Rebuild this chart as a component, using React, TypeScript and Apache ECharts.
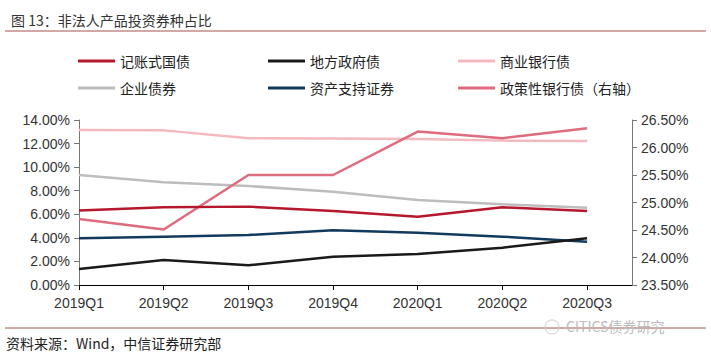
import React, { useEffect, useRef } from "react";
import * as echarts from "echarts";

const categories = ["2019Q1", "2019Q2", "2019Q3", "2019Q4", "2020Q1", "2020Q2", "2020Q3"];
const treasury = [6.33, 6.59, 6.65, 6.28, 5.8, 6.59, 6.28];
const localGov = [1.36, 2.12, 1.67, 2.4, 2.63, 3.17, 3.96];
const commercialBank = [13.15, 13.12, 12.45, 12.42, 12.38, 12.25, 12.22];
const enterprise = [9.33, 8.71, 8.4, 7.92, 7.21, 6.85, 6.56];
const abs = [3.96, 4.1, 4.24, 4.64, 4.44, 4.1, 3.68];
const policyBank = [24.7, 24.51, 25.5, 25.5, 26.29, 26.17, 26.35];

const leftTicks = { min: 0, max: 14, interval: 2 };
const rightTicks = { min: 23.5, max: 26.5, interval: 0.5 };

const FONT = "'Liberation Sans', Arial, 'Noto Sans CJK SC', sans-serif";
const CJK = "'Noto Sans CJK SC', 'Liberation Sans', sans-serif";

function pairs(arr: number[]) {
  return arr.map((v, i) => [i, v]);
}

export default function App() {
  const ref = useRef<HTMLDivElement>(null);
  useEffect(() => {
    if (!ref.current) return;
    const chart = echarts.init(ref.current, undefined, { renderer: "svg" });
    const mk = (name: string, data: number[], color: string, yAxisIndex = 0, width = 2.5) => ({
      name,
      type: "line",
      yAxisIndex,
      data: pairs(data),
      symbol: "none",
      showSymbol: false,
      lineStyle: { color, width },
      itemStyle: { color },
      z: 3,
    });
    const legendText = { fontSize: 14, color: "#222", fontFamily: CJK, lineHeight: 14 };
    const legendBase = {
      orient: "vertical",
      top: 49,
      itemWidth: 37,
      itemHeight: 3,
      itemGap: 13,
      icon: "rect",
      textStyle: legendText,
      selectedMode: false,
    };
    chart.setOption({
      animation: false,
      backgroundColor: "#fff",
      textStyle: { fontFamily: FONT },
      title: {
        text: "图 13：非法人产品投资券种占比",
        left: 6,
        top: 8,
        textStyle: { fontSize: 14, fontWeight: "normal", color: "#333", fontFamily: CJK },
      },
      legend: [
        { ...legendBase, left: 73, data: ["记账式国债", "企业债券"] },
        { ...legendBase, left: 263, data: ["地方政府债", "资产支持证券"] },
        { ...legendBase, left: 453, data: ["商业银行债", "政策性银行债（右轴）"] },
      ],
      grid: { left: 79, right: 79, top: 120, bottom: 75 },
      xAxis: {
        type: "value",
        min: 0,
        max: 6.53,
        interval: 1,
        splitLine: { show: false },
        axisLine: { lineStyle: { color: "#000", width: 1 } },
        axisTick: { show: true, length: 5, lineStyle: { color: "#000" } },
        axisLabel: {
          fontSize: 14,
          color: "#333",
          margin: 11,
          showMaxLabel: false,
          formatter: (v: number) => (Number.isInteger(v) && categories[v] ? categories[v] : ""),
        },
      },
      yAxis: [
        {
          type: "value",
          ...leftTicks,
          splitLine: { show: false },
          axisLine: { show: true, lineStyle: { color: "#777" } },
          axisTick: { show: true, length: 5, lineStyle: { color: "#777" } },
          axisLabel: { fontSize: 14, color: "#333", margin: 9, formatter: (v: number) => v.toFixed(2) + "%" },
        },
        {
          type: "value",
          ...rightTicks,
          position: "right",
          splitLine: { show: false },
          axisLine: { show: true, lineStyle: { color: "#777" } },
          axisTick: { show: true, length: 5, lineStyle: { color: "#777" } },
          axisLabel: { fontSize: 14, color: "#333", margin: 9, formatter: (v: number) => v.toFixed(2) + "%" },
        },
      ],
      series: [
        mk("商业银行债", commercialBank, "#F3B9BF"),
        mk("企业债券", enterprise, "#BDBDBD"),
        mk("政策性银行债（右轴）", policyBank, "#DE6B7E", 1),
        mk("记账式国债", treasury, "#B5172D"),
        mk("资产支持证券", abs, "#123A5E"),
        mk("地方政府债", localGov, "#1A1A1A"),
      ],
      graphic: [
        { type: "line", shape: { x1: 5, y1: 31, x2: 706, y2: 31 }, style: { stroke: "#A5524A", lineWidth: 1 } },
        { type: "line", shape: { x1: 5, y1: 328, x2: 706, y2: 328 }, style: { stroke: "#A5524A", lineWidth: 1 } },
        {
          type: "text",
          left: 6,
          top: 336,
          style: { text: "资料来源：Wind，中信证券研究部", fill: "#222", font: "14px " + CJK },
        },
        {
          type: "text",
          left: 566,
          top: 319,
          style: { text: "CITICS债券研究", fill: "#BBBBBB", font: "14px " + CJK },
        },
        { type: "circle", shape: { cx: 552, cy: 327, r: 7 }, style: { fill: "none", stroke: "#CCCCCC", lineWidth: 1 } },
      ],
    } as any);
    return () => chart.dispose();
  }, []);
  return (
    <div
      ref={ref}
      style={{ position: "fixed", left: 0, top: 0, width: 711, height: 360 }}
    />
  );
}
